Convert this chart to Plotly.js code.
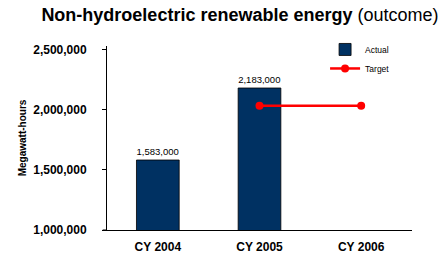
<!DOCTYPE html>
<html><head><meta charset="utf-8">
<script src="https://cdn.plot.ly/plotly-3.0.1.min.js"></script>
<style>html,body{margin:0;padding:0;background:#fff}#c{width:446px;height:259px}</style>
</head><body><div id="c"></div>
<script>
var categories = ["CY 2004", "CY 2005", "CY 2006"];
var actualValues = [1583000, 2183000, null];
var targetCategories = ["CY 2005", "CY 2006"];
var targetValues = [2035000, 2035000];
var actualLabels = ["1,583,000", "2,183,000", ""];

var F = "Liberation Sans, Arial, sans-serif";
var traces = [
  {type: "bar", name: "Actual", x: categories, y: actualValues, text: actualLabels,
   textposition: "outside", textfont: {family: F, size: 10, color: "#000"},
   cliponaxis: false, width: 0.42,
   marker: {color: "#003162", line: {color: "#000", width: 0.8}}, hoverinfo: "none"},
  {type: "scatter", mode: "lines+markers", name: "Target", x: targetCategories, y: targetValues,
   line: {color: "#ff0000", width: 2.5}, marker: {color: "#ff0000", size: 8, symbol: "circle"}, hoverinfo: "none"}
];
var layout = {
  width: 446, height: 259,
  margin: {l: 107, r: 34, t: 46, b: 29},
  paper_bgcolor: "#fff", plot_bgcolor: "#fff",
  font: {family: F, color: "#000"},
  title: {text: "<b>Non-hydroelectric renewable energy</b> (outcome)", font: {family: F, size: 18, color: "#000"},
          x: 0.538, xanchor: "center", y: 0.942, yanchor: "middle"},
  showlegend: true,
  legend: {x: 0.715, y: 1.06, xanchor: "left", yanchor: "top", bgcolor: "rgba(0,0,0,0)",
           font: {family: F, size: 8.5, color: "#000"}, itemwidth: 30, tracegroupgap: 0},
  xaxis: {type: "category", range: [-0.5, 2.5], showline: true, linecolor: "#000", linewidth: 1,
          ticks: "", showgrid: false, zeroline: false, ticklabelstandoff: 6,
          tickfont: {family: F, size: 12, color: "#000", weight: "bold"}},
  yaxis: {range: [1000000, 2533000], tickvals: [1000000, 1500000, 2000000, 2500000],
          tickformat: ",d", showline: true, linecolor: "#000", linewidth: 1, ticks: "outside",
          ticklen: 4, tickcolor: "#000", showgrid: false, zeroline: false, ticklabelstandoff: 13,
          tickfont: {family: F, size: 12, color: "#000", weight: "bold"},
          title: {text: "Megawatt-hours", font: {family: F, size: 10, color: "#000", weight: "bold"}, standoff: 4}},
  shapes: [{type: "line", xref: "paper", yref: "paper", x0: -0.014, x1: 0, y0: 0, y1: 0, line: {color: "#000", width: 1}}]
};
Plotly.newPlot("c", traces, layout, {staticPlot: true, displayModeBar: false});
</script></body></html>
